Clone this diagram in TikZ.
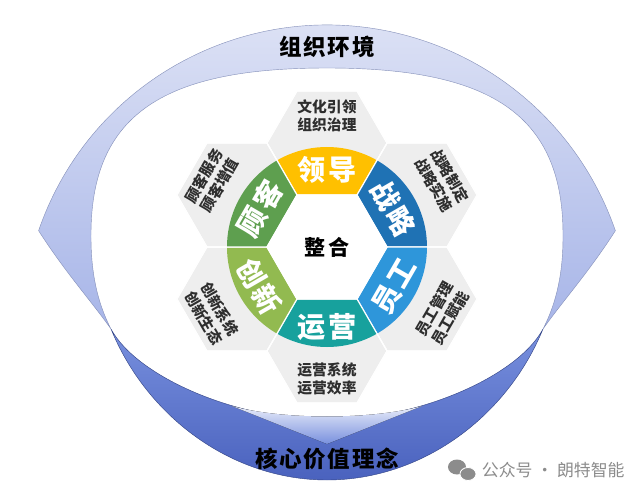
\documentclass[tikz,border=0pt]{standalone}
\usepackage{fontspec}
\setmainfont{Noto Sans CJK SC}
\usepackage{tikz}
\usetikzlibrary{shapes,positioning,calc}

\definecolor{cLead}{HTML}{FFC000}
\definecolor{cStrat}{HTML}{1F72B4}
\definecolor{cStaff}{HTML}{2E96DA}
\definecolor{cOps}{HTML}{17A19D}
\definecolor{cInnov}{HTML}{92BA50}
\definecolor{cCust}{HTML}{5E9F4F}
\definecolor{hexgrey}{HTML}{EEEEEE}
\definecolor{infogrey}{HTML}{2E2E2E}
\definecolor{lidtop}{HTML}{E2E6F6}
\definecolor{lidbot}{HTML}{A7B5E8}
\definecolor{bandtop}{HTML}{7890DE}
\definecolor{bandbot}{HTML}{4A62BE}
\definecolor{wmgrey}{HTML}{8C8C8C}

\begin{document}
\begin{tikzpicture}[x=0.025cm, y=0.025cm]
\tikzset{
hexcell/.style   = {draw=white, line width=0.8pt, fill=hexgrey, shape=regular polygon, regular polygon sides=6, minimum size=3cm, inner sep=0pt, outer sep=0pt},
hexcore/.style   = {hexcell, fill=white, font=\fontsize{15}{18}\selectfont\bfseries\addfontfeature{LetterSpace=12}},
seglabel/.style  = {text=white, inner sep=1pt, font=\fontsize{20}{24}\selectfont\bfseries\addfontfeature{LetterSpace=8}},
hexinfo/.style   = {text=infogrey, align=center, inner sep=1pt, font=\fontsize{10.5}{13}\selectfont\bfseries},
ringtitle/.style = {text=black, font=\fontsize{16}{19}\selectfont\bfseries\addfontfeature{LetterSpace=8}},
wmtext/.style    = {text=wmgrey, font=\fontsize{12}{14}\selectfont},
}
    \useasboundingbox (-327,-254) rectangle (313,247);

    % Eye frame
    \draw [draw=lidbot!80!black, line width=0.3pt, top color=lidtop, bottom color=lidbot]
        (-288.4,16.3) arc [start angle=161, end angle=19, radius=305]
        .. controls (262,-25) and (235,-55) .. (216,-82)
        .. controls (230,-55) and (236,-25) .. (236,10)
        .. controls (237,135) and (160,179) .. (0,179)
        .. controls (-160,179) and (-237,135) .. (-236,10)
        .. controls (-236,-25) and (-230,-55) .. (-216,-82)
        .. controls (-235,-55) and (-262,-25) .. (-288.4,16.3) -- cycle;
    \draw [draw=bandbot!70!black, line width=0.3pt, top color=bandtop, bottom color=bandbot]
        (-216,-82) .. controls (-180,-170) and (-95,-233) .. (0,-233)
        .. controls (95,-233) and (180,-170) .. (216,-82)
        .. controls (190,-130) and (90,-173) .. (0,-173)
        .. controls (-90,-173) and (-190,-130) .. (-216,-82) -- cycle;
    \fill [top color=white!75!lidbot, bottom color=bandtop]
        (-95,-159) .. controls (-45,-173) and (45,-173) .. (95,-159) -- (0,-197) -- cycle;

    % Hex nodes
    \coordinate (mid) at (0,0);
    \node [hexcell] (hex_lead)  at (90:104)   {};
    \node [hexcell] (hex_strat) at (30:104)   {};
    \node [hexcell] (hex_staff) at (-30:104)  {};
    \node [hexcell] (hex_ops)   at (-90:104)  {};
    \node [hexcell] (hex_innov) at (-150:104) {};
    \node [hexcell] (hex_cust)  at (150:104)  {};

    % Ring parts
    \foreach \h/\c in {hex_lead/cLead, hex_strat/cStrat, hex_staff/cStaff, hex_ops/cOps, hex_innov/cInnov, hex_cust/cCust}{
        \begin{scope}
            \clip (\h.corner 1) -- (\h.corner 2) -- (\h.corner 3) -- (\h.corner 4) -- (\h.corner 5) -- (\h.corner 6) -- cycle;
            \fill [\c] (mid) circle (100);
        \end{scope}
        \draw [white, line width=0.8pt] (\h.corner 1) -- (\h.corner 2) -- (\h.corner 3) -- (\h.corner 4) -- (\h.corner 5) -- (\h.corner 6) -- cycle;
    }
    \node [hexcore] (hex_core) at (mid) {整合};

    % Ring labels
    \node [seglabel]             (lbl_lead)  at (90:77)   {领导};
    \node [seglabel, rotate=-60] (lbl_strat) at (30:77)   {战略};
    \node [seglabel, rotate=60]  (lbl_staff) at (-30:78)  {员工};
    \node [seglabel]             (lbl_ops)   at (-90:80)  {运营};
    \node [seglabel, rotate=-60] (lbl_innov) at (-150:78) {创新};
    \node [seglabel, rotate=60]  (lbl_cust)  at (150:77)  {顾客};

    % Hex texts
    \node [hexinfo]             (txt_lead)  at (90:131)   {文化引领\\组织治理};
    \node [hexinfo, rotate=-60] (txt_strat) at (30:133)   {战略制定\\战略实施};
    \node [hexinfo, rotate=60]  (txt_staff) at (-30:133)  {员工管理\\员工赋能};
    \node [hexinfo]             (txt_ops)   at (-90:132)  {运营系统\\运营效率};
    \node [hexinfo, rotate=-60] (txt_innov) at (-150:133) {创新系统\\创新生态};
    \node [hexinfo, rotate=60]  (txt_cust)  at (150:133)  {顾客服务\\顾客增值};

    % Frame titles
    \node [ringtitle] (env)    at (0,200)  {组织环境};
    \node [ringtitle] (values) at (0,-212) {核心价值理念};

    % Watermark
    \fill [wmgrey] (130,-220) ellipse (9 and 7.5);
    \fill [wmgrey, draw=white, line width=0.6pt] (141,-227) ellipse (8 and 6.5);
    \node [wmtext, anchor=west] (wm) at (150,-223) {公众号 · 朗特智能};
\end{tikzpicture}
\end{document}
